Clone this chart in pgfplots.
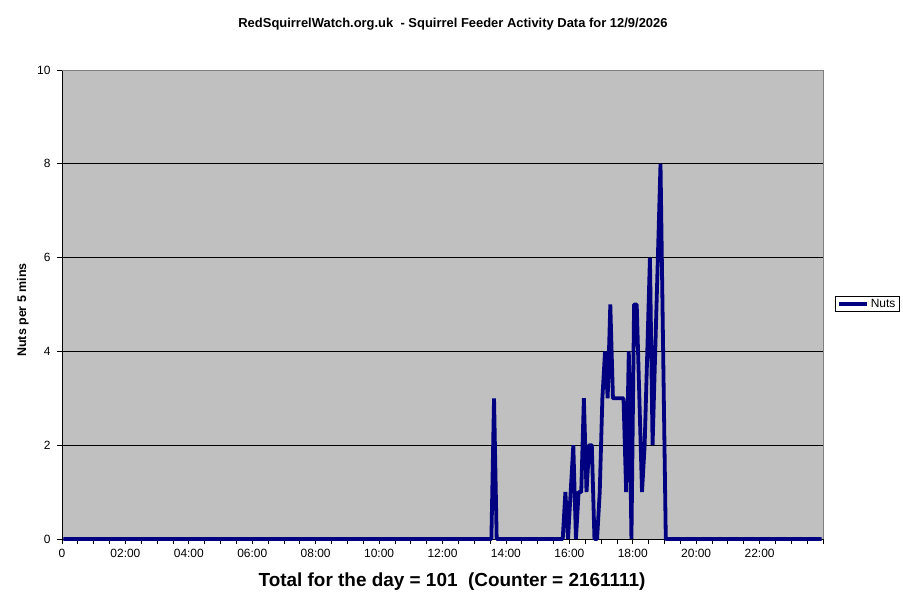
\documentclass[border=0pt]{standalone}
\usepackage{pgfplots}
\usepackage{pgfplotstable}
\pgfplotsset{compat=1.18}
\usepackage{fontspec}
\setmainfont{Liberation Sans}
\definecolor{navyline}{RGB}{0,0,128}
\definecolor{plotgray}{RGB}{192,192,192}
\definecolor{bordergray}{RGB}{128,128,128}
% index = 5-minute slot (0..287), plotted at slot centre (index+0.5)
\pgfplotstableread{
slot nuts
0.5 0
162.5 0
163.5 3
164.5 0
189.5 0
190.5 1
191.5 0
192.5 1
193.5 2
194.5 0
195.5 1
196.5 1
197.5 3
198.5 1
199.5 2
200.5 2
201.5 0
202.5 0
203.5 1
204.5 3
205.5 4
206.5 3
207.5 5
208.5 3
209.5 3
210.5 3
211.5 3
212.5 3
213.5 1
214.5 4
215.5 0
216.5 5
217.5 5
218.5 3
219.5 1
220.5 2
221.5 4
222.5 6
223.5 2
224.5 4
225.5 6
226.5 8
227.5 4
228.5 0
287.5 0
}\nutsdata
\begin{document}
\begin{tikzpicture}[x=1bp,y=1bp]
\useasboundingbox (0,0) rectangle (903,615);
\begin{axis}[
  at={(62bp,76bp)}, anchor=south west,
  scale only axis, width=761bp, height=469bp,
  xmin=0, xmax=288, ymin=0, ymax=10,
  axis lines=left,
  axis line style={-, black, line width=0.8bp},
  axis background/.style={fill=plotgray},
  xtick={0,24,...,264},
  xticklabels={0,02:00,04:00,06:00,08:00,10:00,12:00,14:00,16:00,18:00,20:00,22:00},
  minor xtick={6,12,...,288},
  ytick={0,2,...,10},
  ymajorgrids,
  grid style={black, line width=0.8bp},
  tick align=outside,
  major tick length=5bp, minor tick length=5bp,
  tick style={black, line width=0.8bp},
  tick label style={font=\fontsize{12}{14}\selectfont},
  xticklabel style={yshift=-2bp},
  yticklabel style={xshift=-3bp},
  /pgf/number format/assume math mode=true,
  clip=false,
  legend style={at={(1.058,0.501)}, anchor=center, draw=black, line width=0.8bp,
    fill=white, font=\fontsize{12}{14}\selectfont, inner xsep=2bp, inner ysep=1bp,
    row sep=0bp},
  legend cell align=left,
  legend image code/.code={\draw[#1] (0bp,0bp) -- (28bp,0bp);},
]
\addplot[navyline, line width=3.8bp, line join=bevel] table[x=slot, y=nuts] {\nutsdata};
\addlegendentry{Nuts}
\draw[bordergray, line width=0.8bp] (rel axis cs:0,1) -- (rel axis cs:1,1) -- (rel axis cs:1,0);
\end{axis}
\node[font=\bfseries\fontsize{13}{15}\selectfont] at (453,591) {RedSquirrelWatch.org.uk\ \ - Squirrel Feeder Activity Data for 12/9/2026};
\node[font=\bfseries\fontsize{12.5}{14}\selectfont, rotate=90] at (23,305) {Nuts per 5 mins};
\node[font=\bfseries\fontsize{19}{21}\selectfont] at (452,33) {Total for the day = 101\ \ (Counter = 2161111)};
\end{tikzpicture}
\end{document}
